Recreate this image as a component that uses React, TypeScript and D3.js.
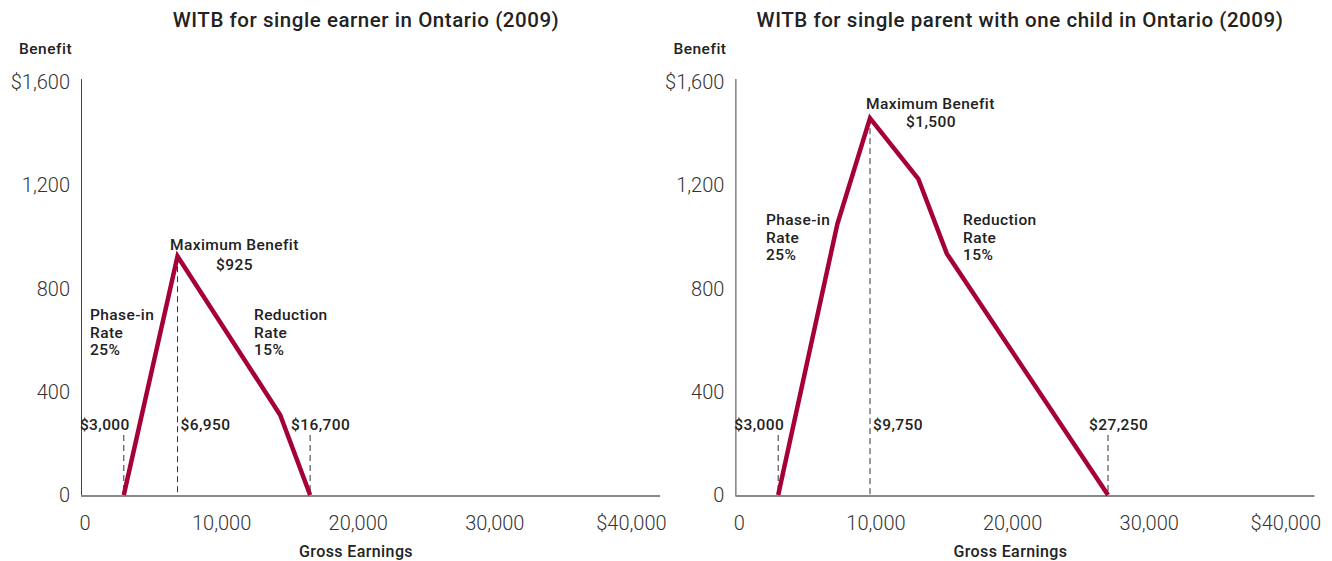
import React from "react";
import * as d3 from "d3";

const xTicks = [0, 10000, 20000, 30000, 40000];
const xTickLabels = ["0", "10,000", "20,000", "30,000", "$40,000"];
const yTicks = [0, 400, 800, 1200, 1600];
const yTickLabels = ["0", "400", "800", "1,200", "$1,600"];

const singleEarnings = [3000, 6950, 14500, 16700];
const singleBenefit = [0, 925, 310, 0];
const singleMarkers = [3000, 6950, 16700];
const singleMarkerLabels = ["$3,000", "$6,950", "$16,700"];

const parentEarnings = [3000, 7350, 9750, 13300, 15400, 27250];
const parentBenefit = [0, 1050, 1460, 1225, 935, 0];
const parentMarkers = [3000, 9750, 27250];
const parentMarkerLabels = ["$3,000", "$9,750", "$27,250"];

const RED = "#a6003a";
const TEXT = "#222";
const FONT = "Roboto, 'Liberation Sans', Arial, sans-serif";

type PanelProps = {
  x0: number;
  title: string;
  titleX: number;
  earnings: number[];
  benefit: number[];
  markers: number[];
  markerLabels: string[];
  peakIndex: number;
  maxLabel: string;
  maxLabelPos: [number, number, number, number];
  phasePos: [number, number];
  reductionPos: [number, number];
};

const ANN = 15.5;
const ANN_LS = 0.4;

function Panel(p: PanelProps) {
  const x = d3.scaleLinear().domain([0, 40000]).range([p.x0, p.x0 + 544]);
  const y = d3.scaleLinear().domain([0, 1600]).range([495, 82]);
  const pts: [number, number][] = p.earnings.map((e, i) => [e, p.benefit[i]]);
  const line = d3
    .line<[number, number]>()
    .x((d) => x(d[0]))
    .y((d) => y(d[1]));
  const peakY = y(p.benefit[p.peakIndex]);
  const peakE = p.earnings[p.peakIndex];
  const annProps = {
    fontSize: ANN,
    fontWeight: 500,
    fill: TEXT,
    fontFamily: FONT,
    letterSpacing: ANN_LS,
  };
  const lines3 = (lbl: string[], px: number, py: number) =>
    lbl.map((t, i) => (
      <text key={t} x={px} y={py + i * 17.5} {...annProps}>
        {t}
      </text>
    ));
  return (
    <g>
      <text
        x={p.titleX}
        y={27}
        textAnchor="middle"
        fontSize={20.5}
        fontWeight={500}
        letterSpacing={0.55}
        fill={TEXT}
        fontFamily={FONT}
      >
        {p.title}
      </text>
      <text x={p.x0 - 64} y={54} fontSize={15.5} fontWeight={500} letterSpacing={0.5} fill={TEXT} fontFamily={FONT}>
        Benefit
      </text>
      {/* axes */}
      <line x1={p.x0 - 1.5} x2={p.x0 - 1.5} y1={79} y2={496} stroke="#444" strokeWidth={1} />
      <line x1={p.x0 - 2} x2={p.x0 + 577} y1={496} y2={496} stroke="#888" strokeWidth={2} />
      {yTicks.map((t, i) => (
        <text
          key={t}
          x={p.x0 - 13}
          y={y(t)}
          textAnchor="end"
          dominantBaseline="central"
          fontSize={20}
          fontWeight={300}
          fill="#333"
          fontFamily={FONT}
        >
          {yTickLabels[i]}
        </text>
      ))}
      {xTicks.map((t, i) => (
        <text
          key={t}
          x={x(t) + 2 + i * 0.6}
          y={523}
          textAnchor="middle"
          dominantBaseline="central"
          fontSize={20}
          fontWeight={300}
          fill="#333"
          fontFamily={FONT}
        >
          {xTickLabels[i]}
        </text>
      ))}
      <text
        x={x(20000) + 1}
        y={556.5}
        textAnchor="middle"
        fontSize={16}
        fontWeight={500}
        letterSpacing={0.4}
        fill={TEXT}
        fontFamily={FONT}
      >
        Gross Earnings
      </text>
      {/* dashed markers */}
      {p.markers.map((m, i) => {
        const isPeak = m === peakE;
        const anchor = i === 0 ? "end" : "start";
        const lx = i === 0 ? x(m) + 6 : isPeak ? x(m) + 3 : x(m) - 19;
        return (
          <g key={m}>
            <line
              x1={x(m)}
              x2={x(m)}
              y1={isPeak ? peakY : 435}
              y2={495}
              stroke="#333"
              strokeWidth={1}
              strokeDasharray="6,4"
            />
            <text x={lx} y={430} textAnchor={anchor} {...annProps}>
              {p.markerLabels[i]}
            </text>
          </g>
        );
      })}
      <path d={line(pts) || ""} fill="none" stroke={RED} strokeWidth={4.5} strokeLinejoin="miter" />
      {/* annotations */}
      <text x={p.maxLabelPos[0]} y={p.maxLabelPos[1]} {...annProps}>
        Maximum Benefit
      </text>
      <text x={p.maxLabelPos[2]} y={p.maxLabelPos[3]} {...annProps}>
        {p.maxLabel}
      </text>
      {lines3(["Phase-in", "Rate", "25%"], p.phasePos[0], p.phasePos[1])}
      {lines3(["Reduction", "Rate", "15%"], p.reductionPos[0], p.reductionPos[1])}
    </g>
  );
}

export default function App() {
  return (
    <svg
      width={1332}
      height={561}
      style={{ position: "absolute", left: 0, top: 0, background: "#fff" }}
    >
      <Panel
        x0={83}
        title="WITB for single earner in Ontario (2009)"
        titleX={366}
        earnings={singleEarnings}
        benefit={singleBenefit}
        markers={singleMarkers}
        markerLabels={singleMarkerLabels}
        peakIndex={1}
        maxLabel="$925"
        maxLabelPos={[170, 250, 216, 270]}
        phasePos={[90, 320]}
        reductionPos={[254, 320]}
      />
      <Panel
        x0={737.4}
        title="WITB for single parent with one child in Ontario (2009)"
        titleX={1020}
        earnings={parentEarnings}
        benefit={parentBenefit}
        markers={parentMarkers}
        markerLabels={parentMarkerLabels}
        peakIndex={2}
        maxLabel="$1,500"
        maxLabelPos={[866, 109, 906, 127]}
        phasePos={[766, 225]}
        reductionPos={[963, 225]}
      />
    </svg>
  );
}
